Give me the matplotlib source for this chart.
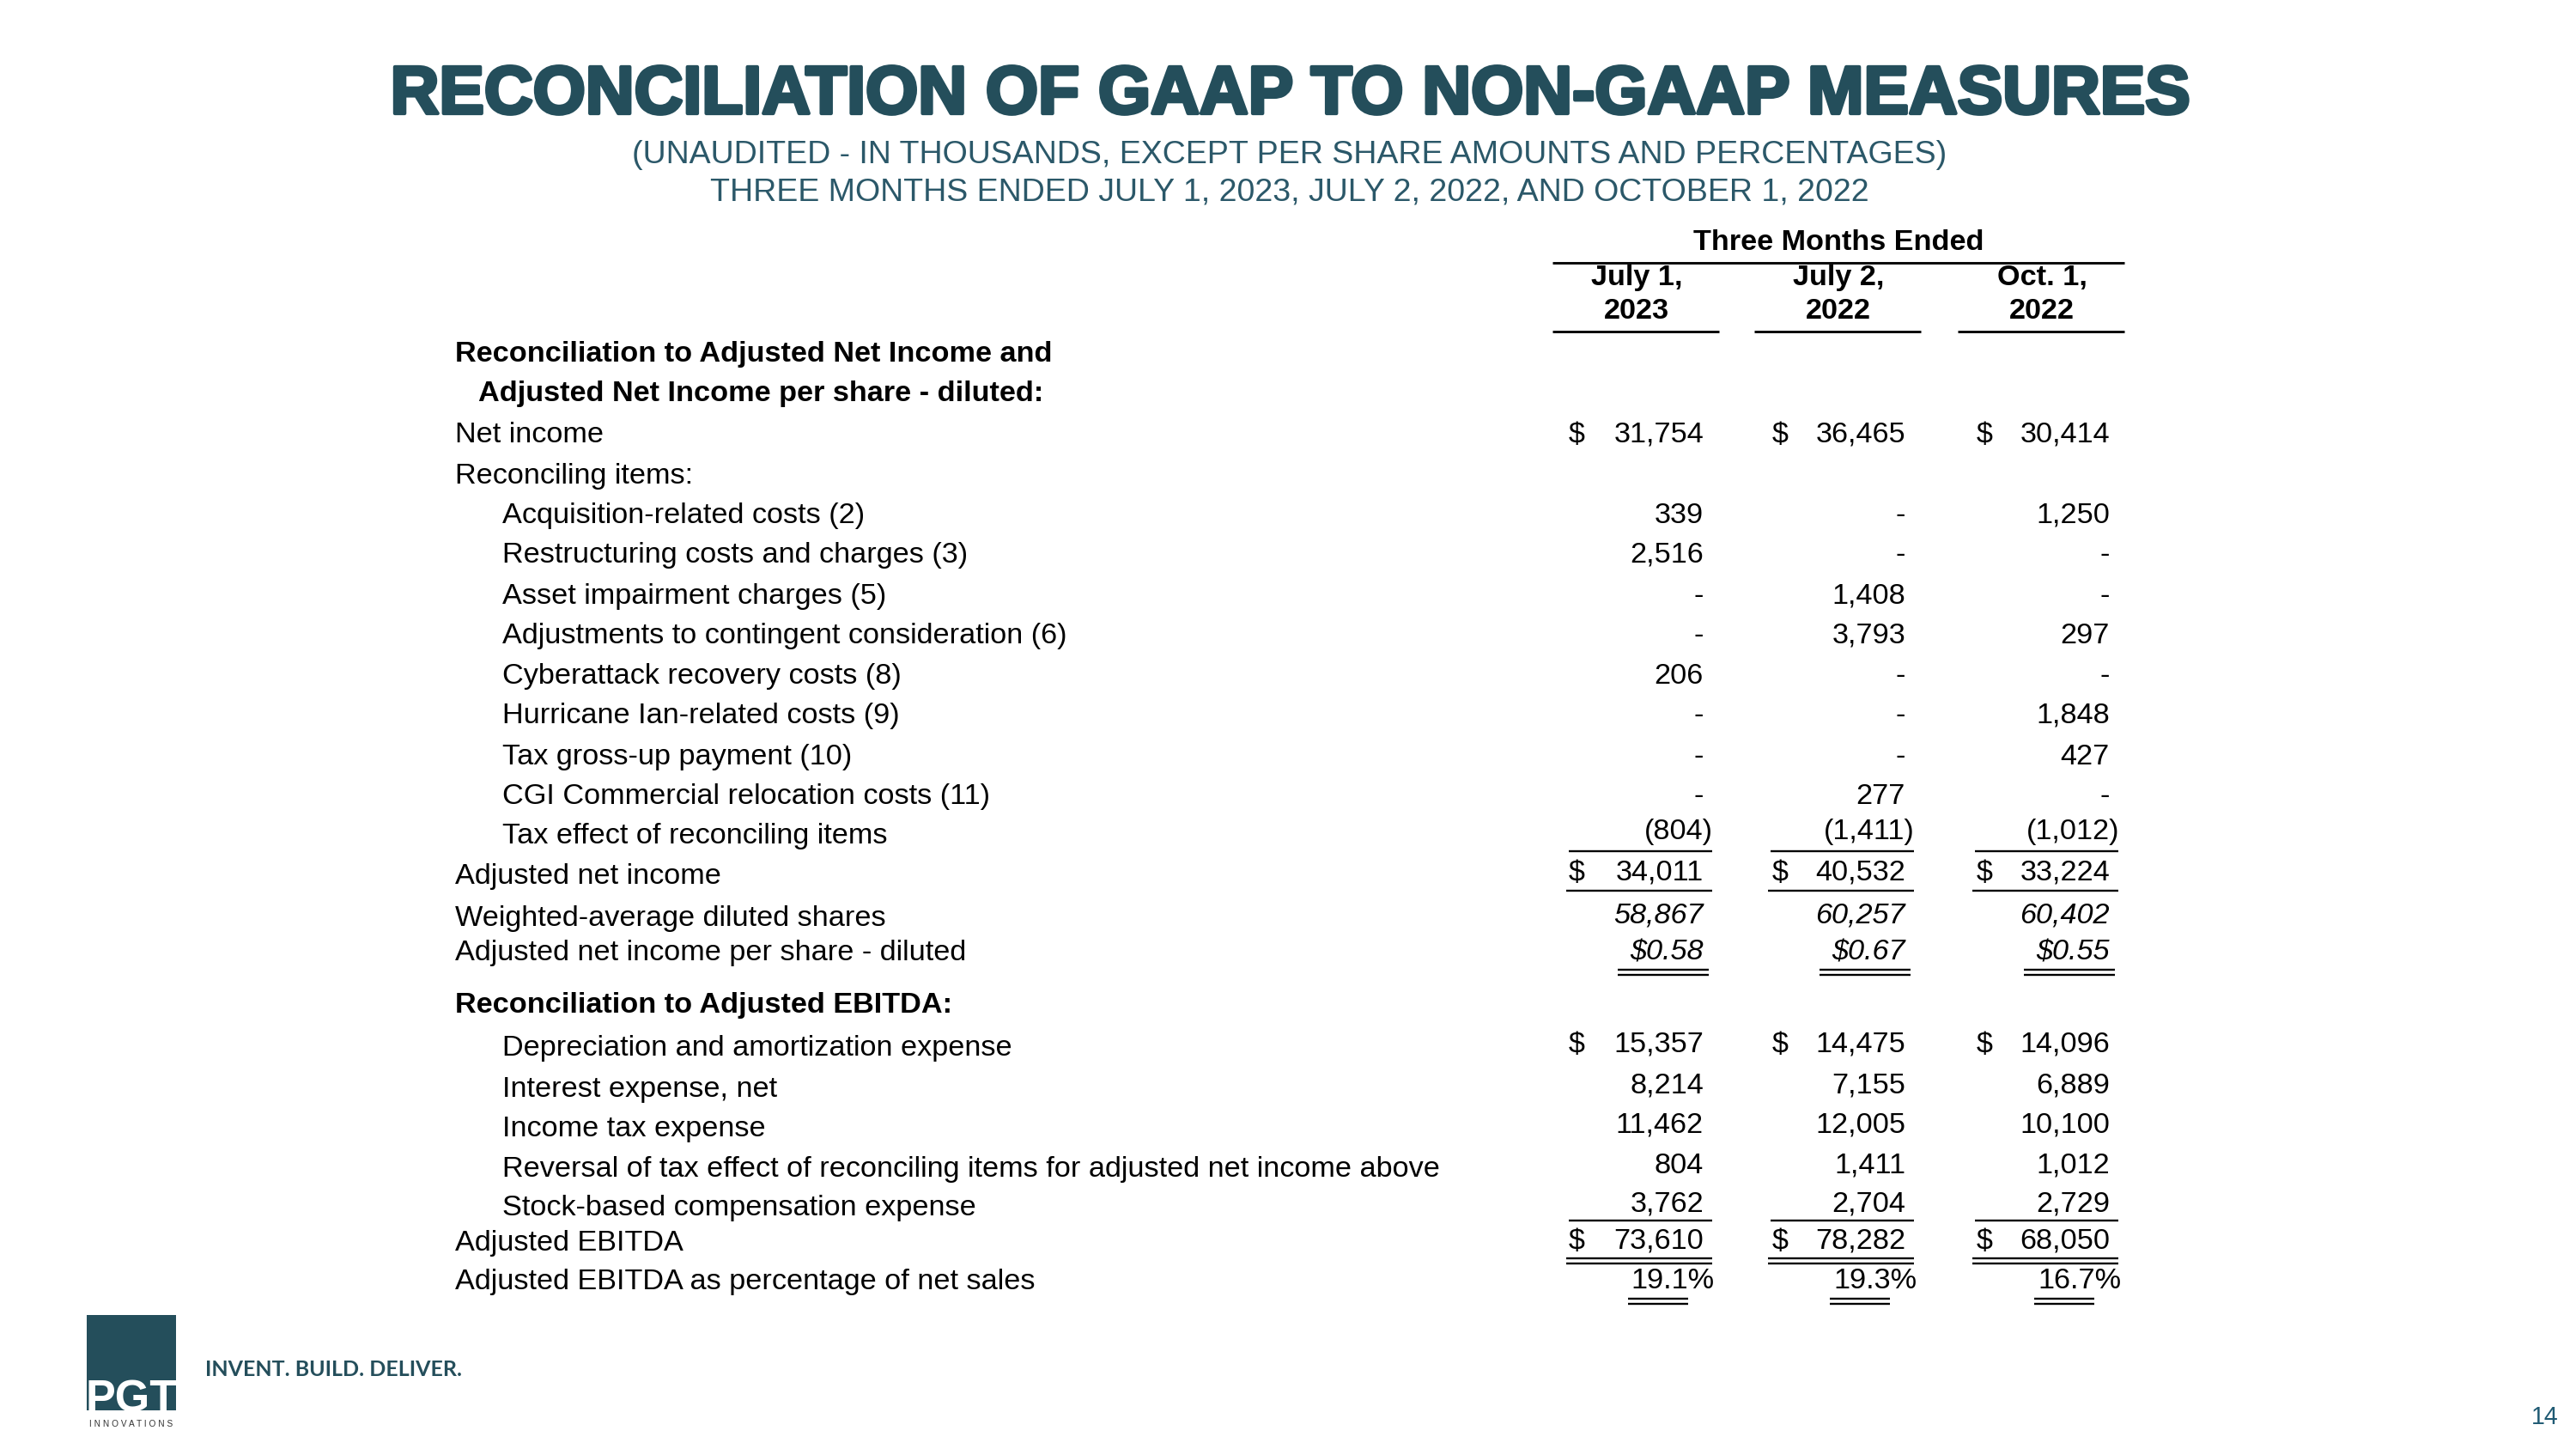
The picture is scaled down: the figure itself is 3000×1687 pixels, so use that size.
import matplotlib
matplotlib.use("Agg")
import matplotlib.pyplot as plt
import matplotlib.patheffects as pe
from matplotlib.patches import Rectangle

plt.rcParams["font.family"] = ["Liberation Sans", "DejaVu Sans"]

# --------------------------------------------------
# Data
# --------------------------------------------------

title = "RECONCILIATION OF GAAP TO NON-GAAP MEASURES"
subtitle_1 = "(UNAUDITED - IN THOUSANDS, EXCEPT PER SHARE AMOUNTS AND PERCENTAGES)"
subtitle_2 = "THREE MONTHS ENDED JULY 1, 2023, JULY 2, 2022, AND OCTOBER 1, 2022"

periods = ["July 1,\n2023", "July 2,\n2022", "Oct. 1,\n2022"]

net_income = [31754, 36465, 30414]

recon_labels = [
    "Acquisition-related costs (2)",
    "Restructuring costs and charges (3)",
    "Asset impairment charges (5)",
    "Adjustments to contingent consideration (6)",
    "Cyberattack recovery costs (8)",
    "Hurricane Ian-related costs (9)",
    "Tax gross-up payment (10)",
    "CGI Commercial relocation costs (11)",
    "Tax effect of reconciling items",
]
recon_values = [
    [339, None, 1250],
    [2516, None, None],
    [None, 1408, None],
    [None, 3793, 297],
    [206, None, None],
    [None, None, 1848],
    [None, None, 427],
    [None, 277, None],
    [-804, -1411, -1012],
]

adj_net_income = [34011, 40532, 33224]
diluted_shares = [58867, 60257, 60402]
adj_eps = [0.58, 0.67, 0.55]

ebitda_labels = [
    "Depreciation and amortization expense",
    "Interest expense, net",
    "Income tax expense",
    "Reversal of tax effect of reconciling items for adjusted net income above",
    "Stock-based compensation expense",
]
ebitda_values = [
    [15357, 14475, 14096],
    [8214, 7155, 6889],
    [11462, 12005, 10100],
    [804, 1411, 1012],
    [3762, 2704, 2729],
]

adj_ebitda = [73610, 78282, 68050]
ebitda_margin = [19.1, 19.3, 16.7]

# --------------------------------------------------
# Style
# --------------------------------------------------

TEAL = "#244e5b"
SUB = "#2b5869"
BODY = 13.15
W, H = 3000, 1687
DY = 3                           # small vertical nudge for the table

COL_R = [1984, 2219, 2457]       # right edge of numbers
COL_D = [1827, 2064, 2302]       # left edge of "$"
COL_C = [1906, 2141, 2378]       # header centres
LX, IX = 530, 585                # label x, indented label x

fig = plt.figure(figsize=(16, 9), dpi=187.5)
ax = fig.add_axes([0, 0, 1, 1])
ax.set_xlim(0, W)
ax.set_ylim(H, 0)
ax.axis("off")


def fmt(v):
    if v is None:
        return "-"
    if v < 0:
        return "({:,})".format(-v)
    return "{:,}".format(v)


def label(y, s, x=IX, bold=False):
    ax.text(x, y + DY, s, ha="left", va="center", fontsize=BODY,
            fontweight="bold" if bold else "normal", color="black")


def numbers(y, vals, dollar=False, style="normal"):
    for c, v in enumerate(vals):
        s = fmt(v)
        xr = COL_R[c] + (11 if s.endswith(")") else 0)
        ax.text(xr, y + DY, s, ha="right", va="center", fontsize=BODY,
                fontstyle=style)
        if dollar:
            ax.text(COL_D[c], y + DY, "$", ha="left", va="center", fontsize=BODY)


def rule(y, x0, x1, lw=0.9):
    ax.plot([x0, x1], [y + DY, y + DY], color="black", lw=lw,
            solid_capstyle="butt")


# --------------------------------------------------
# Titles
# --------------------------------------------------

ax.text(1502, 112, title, ha="center", va="center", fontsize=30.2,
        fontweight="bold", color=TEAL,
        path_effects=[pe.withStroke(linewidth=1.6, foreground=TEAL)])
ax.text(1502, 180, subtitle_1, ha="center", va="center", fontsize=14.4,
        color=SUB)
ax.text(1502, 224, subtitle_2, ha="center", va="center", fontsize=14.4,
        color=SUB)

# ---------- column header ----------
ax.text(2141, 282, "Three Months Ended", ha="center", va="center",
        fontsize=BODY, fontweight="bold")
rule(303, 1808, 2474, lw=1.1)
for c, p in enumerate(periods):
    top, bottom = p.split("\n")
    ax.text(COL_C[c], 323, top, ha="center", va="center", fontsize=BODY,
            fontweight="bold")
    ax.text(COL_C[c], 362, bottom, ha="center", va="center", fontsize=BODY,
            fontweight="bold")
    rule(383, COL_C[c] - 98, COL_C[c] + 96, lw=1.1)

# --------------------------------------------------
# Adjusted net income block
# --------------------------------------------------

label(409, "Reconciliation to Adjusted Net Income and", x=LX, bold=True)
label(455, "Adjusted Net Income per share - diluted:", x=557, bold=True)

label(503, "Net income", x=LX)
numbers(503, net_income, dollar=True)

label(551, "Reconciling items:", x=LX)

recon_y = [597, 643, 691, 737, 784, 830, 878, 924, 970]
for y, lab, vals in zip(recon_y, recon_labels, recon_values):
    label(y, lab)
    numbers(y - 5 if lab.startswith("Tax effect") else y, vals)

for c in range(3):
    rule(988, COL_R[c] - 157, COL_R[c] + 10)

label(1017, "Adjusted net income", x=LX)
numbers(1013, adj_net_income, dollar=True)
for c in range(3):
    rule(1034, COL_R[c] - 160, COL_R[c] + 10)

label(1066, "Weighted-average diluted shares", x=LX)
numbers(1063, diluted_shares, style="italic")

label(1106, "Adjusted net income per share - diluted", x=LX)
for c, v in enumerate(adj_eps):
    ax.text(COL_R[c], 1106 + DY, "${:.2f}".format(v), ha="right", va="center",
            fontsize=BODY, fontstyle="italic")
    rule(1126, COL_R[c] - 100, COL_R[c] + 6)
    rule(1132, COL_R[c] - 100, COL_R[c] + 6)

# --------------------------------------------------
# Adjusted EBITDA block
# --------------------------------------------------

label(1167, "Reconciliation to Adjusted EBITDA:", x=LX, bold=True)

ebitda_y = [1213, 1261, 1307, 1354, 1399]
for i, (y, lab, vals) in enumerate(zip(ebitda_y, ebitda_labels, ebitda_values)):
    label(y + 4, lab)
    numbers(y, vals, dollar=(i == 0))

for c in range(3):
    rule(1418, COL_R[c] - 157, COL_R[c] + 10)

label(1444, "Adjusted EBITDA", x=LX)
numbers(1442, adj_ebitda, dollar=True)
for c in range(3):
    rule(1462, COL_R[c] - 160, COL_R[c] + 10)
    rule(1468, COL_R[c] - 160, COL_R[c] + 10)

label(1489, "Adjusted EBITDA as percentage of net sales", x=LX)
for c, v in enumerate(ebitda_margin):
    ax.text(COL_R[c] + 13, 1488 + DY, "{:.1f}%".format(v), ha="right",
            va="center", fontsize=BODY)
    rule(1509, COL_R[c] - 88, COL_R[c] - 18)
    rule(1515, COL_R[c] - 88, COL_R[c] - 18)

# --------------------------------------------------
# Logo and footer
# --------------------------------------------------

ax.add_patch(Rectangle((101, 1531), 104, 111, facecolor=TEAL, edgecolor="none"))
ax.text(153, 1643, "PGT", ha="center", va="baseline", fontsize=20,
        fontweight="bold", color="white")
ax.text(153, 1658, "I N N O V A T I O N S", ha="center", va="center",
        fontsize=3.9, color="#333333")
ax.text(239, 1594, "INVENT. BUILD. DELIVER.", ha="left", va="center",
        fontsize=9.6, fontweight="bold", color=TEAL, family="Lato")
ax.text(2964, 1650, "14", ha="center", va="center", fontsize=11,
        color="#1f5a73")

fig.savefig("out.png", dpi=187.5)
plt.close(fig)
